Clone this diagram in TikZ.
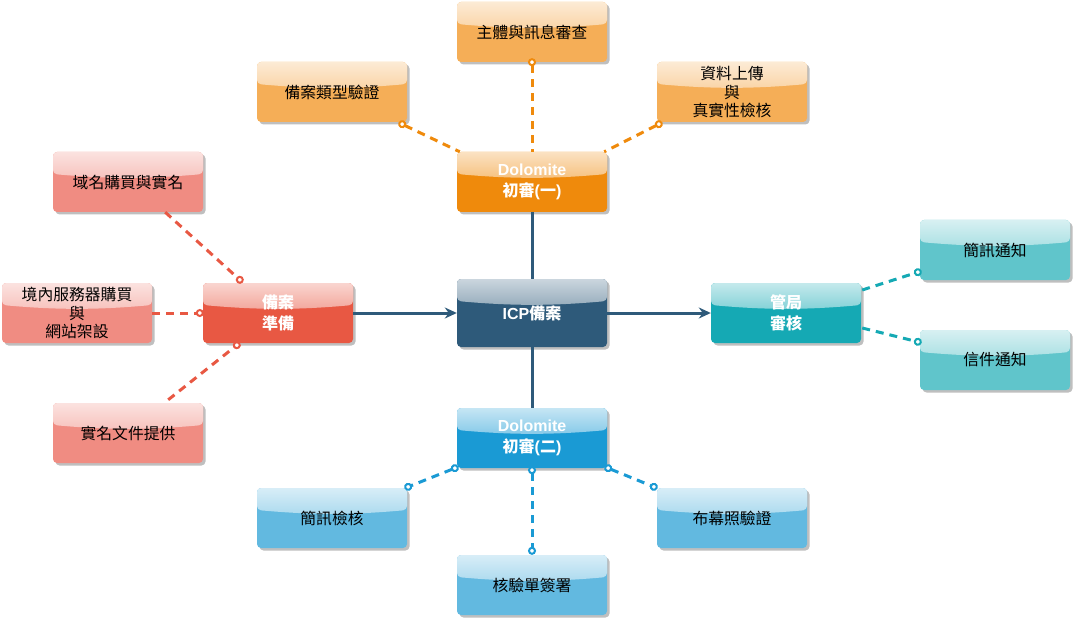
\documentclass[tikz,border=0pt]{standalone}
\usepackage{fontspec}
\setmainfont{Noto Sans CJK TC}
\newfontfamily\lat{Liberation Sans}
\usetikzlibrary{arrows.meta,shadows}
\definecolor{orL}{HTML}{F5AE57}
\definecolor{orD}{HTML}{EF8A0C}
\definecolor{reL}{HTML}{F08C82}
\definecolor{reD}{HTML}{E85843}
\definecolor{icp}{HTML}{2E5A7A}
\definecolor{teL}{HTML}{60C5CB}
\definecolor{teD}{HTML}{15A9B4}
\definecolor{blL}{HTML}{62B9E0}
\definecolor{blD}{HTML}{1A9AD4}
\tikzset{
  gbox/.style={rounded corners=4pt, minimum width=150pt, minimum height=60pt,
    inner sep=0pt, align=center, fill=#1,
    font=\fontsize{15.8}{18.5}\selectfont,
    drop shadow={shadow xshift=2.5pt, shadow yshift=-2.5pt, fill=black!25, opacity=1},
    path picture={
      \shade[top color=#1!25!white, bottom color=#1!88!white]
        (path picture bounding box.north west) -- (path picture bounding box.north east)
        -- ([shift={(0,22)}]path picture bounding box.north east)
        .. controls ([shift={(-55,27)}]path picture bounding box.north east)
        and ([shift={(55,27)}]path picture bounding box.north west)
        .. ([shift={(0,22)}]path picture bounding box.north west) -- cycle;
    }},
  mainbox/.style={gbox=#1, text=white, font=\fontsize{16}{20.5}\selectfont\bfseries},
  dl/.style={draw=#1, line width=3pt, dash pattern=on 8pt off 6pt},
  cend/.style={-{Circle[fill=white,length=8pt,width=8pt,line width=2pt]}, shorten >=-4pt},
  cstart/.style={{Circle[fill=white,length=8pt,width=8pt,line width=2pt]}-, shorten <=-4pt},
  cboth/.style={{Circle[fill=white,length=8pt,width=8pt,line width=2pt]}-{Circle[fill=white,length=8pt,width=8pt,line width=2pt]}, shorten <=-4pt, shorten >=-4pt},
  mainline/.style={draw=icp, line width=3pt},
}
\begin{document}
\begin{tikzpicture}[x=1pt,y=-1pt]
\useasboundingbox (0,0) rectangle (1075,620);
% nodes
\node[gbox=orL] (t1) at (532,32) {主體與訊息審查};
\node[gbox=orL] (t2) at (332,92) {備案類型驗證};
\node[gbox=orL] (t3) at (732,92) {資料上傳\\與\\真實性檢核};
\node[mainbox=orD] (d1) at (532,182) {{\lat Dolomite}\\初審{\lat (}一{\lat )}};
\node[gbox=reL] (l1) at (128,182) {域名購買與實名};
\node[gbox=reL] (l2) at (77,313) {境內服務器購買\\與\\網站架設};
\node[mainbox=reD] (prep) at (278,313) {備案\\準備};
\node[mainbox=icp, minimum height=68pt] (icpn) at (532,313) {{\lat ICP}備案};
\node[mainbox=teD] (gov) at (786,313) {管局\\審核};
\node[gbox=teL] (r1) at (995,250) {簡訊通知};
\node[gbox=teL] (r2) at (995,360) {信件通知};
\node[gbox=reL] (l3) at (128,433) {實名文件提供};
\node[mainbox=blD] (d2) at (532,438) {{\lat Dolomite}\\初審{\lat (}二{\lat )}};
\node[gbox=blL] (b1) at (332,518) {簡訊檢核};
\node[gbox=blL] (b2) at (532,585) {核驗單簽署};
\node[gbox=blL] (b3) at (732,518) {布幕照驗證};
% main connectors
\draw[mainline, -{Stealth[length=12pt,width=11pt]}] (prep.east) -- (icpn.west);
\draw[mainline, -{Stealth[length=12pt,width=11pt]}] (icpn.east) -- (gov.west);
\draw[mainline] (d1.south) -- (icpn.north);
\draw[mainline] (icpn.south) -- (d2.north);
% orange
\draw[dl=orD, cstart] (t1.south) -- (d1.north);
\draw[dl=orD, cstart] ([shift={(-5,2)}]t2.south east) -- ([shift={(3,0)}]d1.north west);
\draw[dl=orD, cstart] ([shift={(2,2)}]t3.south west) -- ([shift={(-3,0)}]d1.north east);
% red
\draw[dl=reD, cend] ([shift={(-38,0)}]l1.south east) -- ([shift={(37,-3)}]prep.north west);
\draw[dl=reD, cend] (l2.east) -- ([shift={(-3,0)}]prep.west);
\draw[dl=reD, cend] ([shift={(-35,-3)}]l3.north east) -- ([shift={(34,2)}]prep.south west);
% teal
\draw[dl=teD, cend] ([shift={(1,-23)}]gov.east) -- ([shift={(-2,-8)}]r1.south west);
\draw[dl=teD, cend] ([shift={(1,15)}]gov.east) -- ([shift={(-2,12)}]r2.north west);
% blue
\draw[dl=blD, cboth] ([shift={(-2,0)}]d2.south west) -- ([shift={(1,-1)}]b1.north east);
\draw[dl=blD, cboth] ([shift={(0,2)}]d2.south) -- ([shift={(0,-4)}]b2.north);
\draw[dl=blD, cboth] ([shift={(1,0)}]d2.south east) -- ([shift={(-3,-1)}]b3.north west);
\end{tikzpicture}
\end{document}
